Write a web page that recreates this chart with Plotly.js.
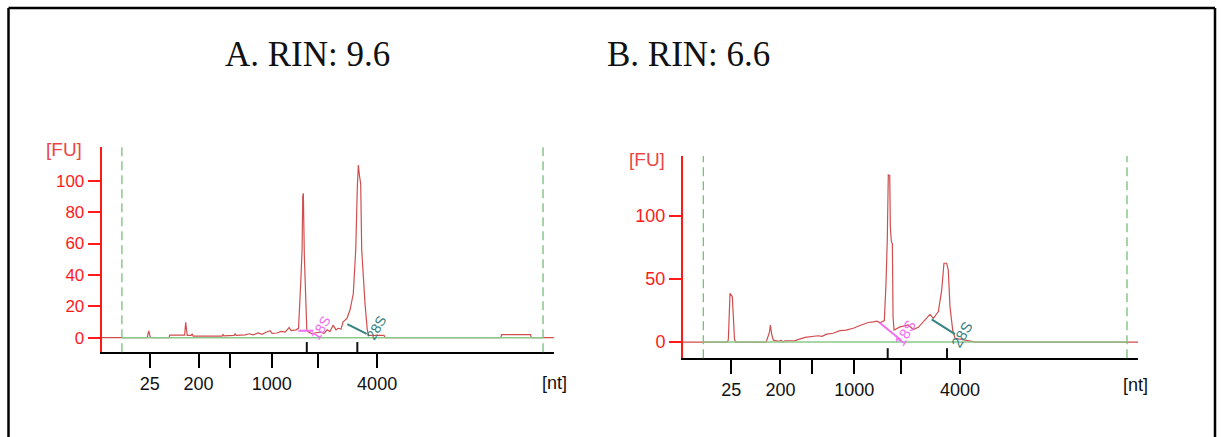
<!DOCTYPE html>
<html>
<head>
<meta charset="utf-8">
<script src="https://cdn.plot.ly/plotly-3.0.1.min.js"></script>
<style>html,body{margin:0;padding:0;background:#fff}#chart{width:1221px;height:437px}</style>
</head>
<body>
<div id="chart"></div>
<script>
// Ladder (migration time positions) and tick labels
const ladderT = [23.3, 29.1, 32.8, 37.8, 43.3, 50.3];
const ladderText = ['25', '200', '', '1000', '', '4000'];

// Panel A: RIN 9.6
const timeA = [17.63, 23.0, 23.18, 23.36, 23.48, 25.61, 25.67, 27.45, 27.57, 27.75, 28.22, 28.34, 28.46, 31.90, 32.02, 32.13, 33.32, 33.44, 33.56, 34.63, 35.10, 35.58, 36.17, 36.64, 37.12, 37.60, 37.83, 38.43, 38.90, 39.38, 39.85, 40.09, 40.68, 40.97, 41.23, 41.39, 41.47, 41.54, 41.66, 41.78, 41.95, 42.10, 42.58, 42.93, 43.53, 44.00, 44.36, 44.71, 45.07, 45.42, 45.66, 46.02, 46.25, 46.73, 47.08, 47.47, 47.76, 47.95, 48.07, 48.21, 48.35, 48.47, 48.66, 48.86, 49.13, 49.28, 51.12, 51.24, 64.99, 65.08, 68.52, 68.61, 71.28];
const fuA = [0, 0, 4.3, 0.5, 0, 0, 1.6, 1.6, 9.8, 1.5, 1.5, 2.5, 1, 1, 2, 1.2, 1.5, 2.5, 1.5, 1.8, 2.5, 1.8, 3, 2.2, 3.5, 4.5, 2.8, 3, 4, 3.5, 6.5, 4.5, 5, 6, 35, 56, 90, 92, 52, 30, 5, 3.8, 2.5, 3, 3.5, 2.8, 5, 4, 8, 5, 6, 5.5, 10, 12.5, 17.6, 28, 56, 96, 110, 103, 98, 56, 35, 22, 5, 1.5, 1.5, 0, 0, 2, 2, 0, 0];
const yTicksA = [0, 20, 40, 60, 80, 100];
const markersA = [41.95, 47.95];

// Panel B: RIN 6.6
const timeB = [17.60, 22.86, 22.95, 23.07, 23.15, 23.42, 23.56, 23.68, 23.82, 27.40, 27.52, 27.81, 27.91, 28.07, 28.26, 28.58, 28.93, 29.17, 29.41, 29.64, 30.82, 32.00, 32.98, 33.54, 34.01, 34.56, 35.31, 36.13, 36.84, 37.70, 38.26, 38.88, 39.44, 40.06, 40.50, 40.85, 41.36, 41.56, 41.71, 41.83, 42.00, 42.07, 42.19, 42.31, 42.39, 42.51, 43.21, 44.19, 44.78, 45.37, 45.96, 46.75, 47.14, 47.73, 48.13, 48.40, 48.72, 48.91, 49.11, 49.43, 49.70, 51.08, 51.86, 52.06, 71.30];
const fuB = [0, 0, 2, 20, 38.6, 36, 20, 2, 0, 0, 2, 8, 13.5, 6, 1.5, 1, 0.5, 1.5, 0, 1, 1.2, 3.7, 4.2, 5, 4.5, 6.3, 7, 9, 9.5, 10.9, 12.5, 14, 15.5, 16, 16.5, 15.3, 17, 46.6, 81, 132.5, 132, 91.5, 79.6, 78, 20, 9.5, 12, 13.5, 10, 11.7, 16, 22, 18.8, 24, 41, 62.5, 62.5, 57, 28, 9.5, 3, 1.6, 0.3, 0, 0];
const yTicksB = [0, 50, 100];
const markersB = [41.76, 48.76];

const windowT = [20, 70];   // alignment markers (dashed lines)
const titles = ['A. RIN: 9.6', 'B. RIN: 6.6'];
const peakNames = ['18S', '28S'];

const W = 1221, H = 437;
const px = v => v / W, py = v => 1 - v / H;

const RED = '#ff1a1a', TRACE = 'rgb(208,78,78)', GREEN = 'rgb(140,200,140)';
const MAG = 'rgb(240,110,240)', TEAL = 'rgb(55,130,130)';
const FAM = 'Liberation Sans, Arial, sans-serif';

const traces = [
  {x: timeA, y: fuA, xaxis: 'x', yaxis: 'y', type: 'scatter', mode: 'lines', line: {color: TRACE, width: 1.2}, hoverinfo: 'skip'},
  {x: timeB, y: fuB, xaxis: 'x2', yaxis: 'y2', type: 'scatter', mode: 'lines', line: {color: TRACE, width: 1.2}, hoverinfo: 'skip'}
];

function xAxis(domain, anchor) {
  return {domain, anchor, range: [17.6, 71.3], tickvals: ladderT, ticktext: ladderText,
    ticks: 'outside', ticklen: 14, tickwidth: 2, tickcolor: '#000',
    showline: true, linecolor: '#000', linewidth: 2, showgrid: false, zeroline: false,
    tickfont: {family: FAM, size: 18, color: '#111'}, fixedrange: true};
}
function yAxis(domain, anchor, range, tv, size) {
  return {domain, anchor, range, tickvals: tv, ticks: 'outside', ticklen: 12, tickwidth: 2, tickcolor: RED,
    showline: true, linecolor: RED, linewidth: 2, showgrid: false, zeroline: false,
    tickfont: {family: FAM, size: size, color: RED}, fixedrange: true};
}

const shapes = [];
// frame
shapes.push({type: 'line', xref: 'paper', yref: 'paper', x0: px(8.5), x1: px(1215), y0: py(8), y1: py(8), line: {color: '#000', width: 2.5}});
shapes.push({type: 'line', xref: 'paper', yref: 'paper', x0: px(8.5), x1: px(8.5), y0: py(8), y1: 0, line: {color: '#000', width: 2.5}});
shapes.push({type: 'line', xref: 'paper', yref: 'paper', x0: px(1215), x1: px(1215), y0: py(8), y1: 0, line: {color: '#000', width: 2.5}});

[['x', 'y', markersA], ['x2', 'y2', markersB]].forEach(([xr, yr, mk]) => {
  windowT.forEach(t => shapes.push({type: 'line', xref: xr, yref: yr + ' domain', x0: t, x1: t, y0: 0, y1: 1,
    line: {color: 'rgb(120,190,120)', width: 1.3, dash: '9px,5px'}}));
  shapes.push({type: 'line', xref: xr, yref: yr, x0: windowT[0], x1: windowT[1], y0: 0, y1: 0, line: {color: GREEN, width: 1.5}});
  mk.forEach(t => shapes.push({type: 'line', xref: xr, yref: yr + ' domain', x0: t, x1: t, y0: 0, y1: 0.05, line: {color: '#111', width: 2}}));
});
// peak-label leader lines
shapes.push({type: 'line', xref: 'x', yref: 'y', x0: 40.95, x1: 42.73, y0: 4.5, y1: 4.5, line: {color: MAG, width: 2}});
shapes.push({type: 'line', xref: 'x', yref: 'y', x0: 46.76, x1: 49.06, y0: 8.7, y1: 2.4, line: {color: TEAL, width: 2}});
shapes.push({type: 'line', xref: 'x2', yref: 'y2', x0: 40.85, x1: 43.41, y0: 15.1, y1: 1.0, line: {color: MAG, width: 2}});
shapes.push({type: 'line', xref: 'x2', yref: 'y2', x0: 46.95, x1: 49.70, y0: 18, y1: 6.3, line: {color: TEAL, width: 2}});

const annFont = (size, color) => ({family: FAM, size, color});
const ann = (o) => Object.assign({showarrow: false, xanchor: 'center', yanchor: 'middle'}, o);
const annotations = [
  ann({xref: 'paper', yref: 'paper', x: px(307.9), y: py(54.9), text: titles[0],
    font: {family: 'Liberation Serif, DejaVu Serif, serif', size: 35, color: '#111'}}),
  ann({xref: 'paper', yref: 'paper', x: px(689), y: py(54.9), text: titles[1],
    font: {family: 'Liberation Serif, DejaVu Serif, serif', size: 35, color: '#111'}}),
  ann({xref: 'paper', yref: 'paper', x: px(64), y: py(149), text: '[FU]', font: annFont(19, 'rgb(235,70,70)')}),
  ann({xref: 'paper', yref: 'paper', x: px(647), y: py(160), text: '[FU]', font: annFont(19, 'rgb(235,70,70)')}),
  ann({xref: 'paper', yref: 'paper', x: px(554), y: py(383), text: '[nt]', font: annFont(18, '#111')}),
  ann({xref: 'paper', yref: 'paper', x: px(1135), y: py(385), text: '[nt]', font: annFont(18, '#111')}),
  ann({xref: 'x', yref: 'y', x: 43.58, y: 6.2, text: peakNames[0], textangle: -60, font: annFont(14, MAG)}),
  ann({xref: 'x', yref: 'y', x: 50.17, y: 6.2, text: peakNames[1], textangle: -60, font: annFont(14, TEAL)}),
  ann({xref: 'x2', yref: 'y2', x: 43.80, y: 7.9, text: peakNames[0], textangle: -60, font: annFont(15, MAG)}),
  ann({xref: 'x2', yref: 'y2', x: 50.53, y: 5.6, text: peakNames[1], textangle: -60, font: annFont(15, TEAL)})
];

const layout = {
  width: W, height: H,
  margin: {l: 0, r: 0, t: 0, b: 0, autoexpand: false},
  paper_bgcolor: '#fff', plot_bgcolor: 'rgba(0,0,0,0)',
  showlegend: false,
  xaxis: xAxis([px(101.7), px(554)], 'y'),
  yaxis: yAxis([1 - 352.3 / H, 1 - 147 / H], 'x', [-9.3, 121.5], yTicksA, 17),
  xaxis2: xAxis([px(683), px(1138)], 'y2'),
  yaxis2: yAxis([1 - 358.3 / H, 1 - 156 / H], 'x2', [-12.9, 147.6], yTicksB, 18),
  shapes, annotations
};

Plotly.newPlot('chart', traces, layout, {staticPlot: true, displayModeBar: false});
</script>
</body>
</html>
